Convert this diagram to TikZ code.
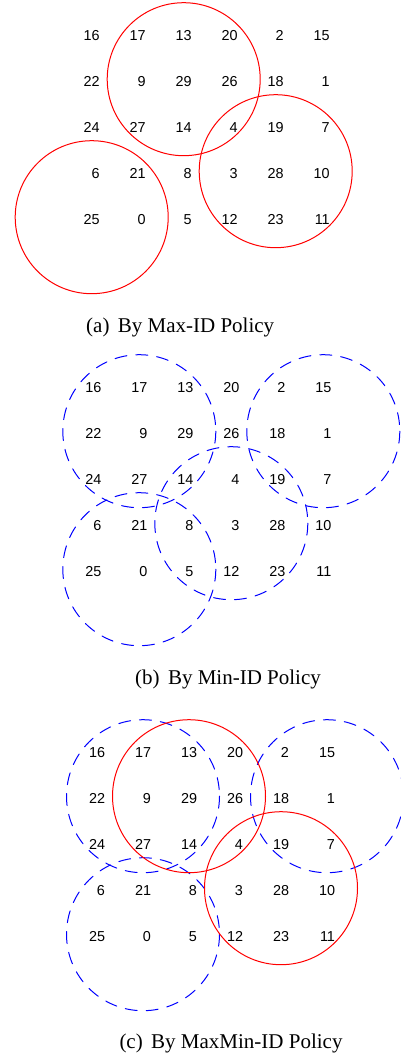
\documentclass[tikz,border=0pt]{standalone}
\usepackage{fontspec}
\setmainfont{Liberation Serif}
\newfontfamily\numfont{Liberation Sans}

\begin{document}
\begin{tikzpicture}[line cap=round,line join=round,x=1pt,y=-1pt,
  idnum/.style={font=\numfont\fontsize{14.4}{16}\selectfont,inner sep=0pt,
    text width=16pt,align=right,text height=10.3pt,text depth=0pt},
  maxhead/.style={draw=red,line width=1pt},
  minhead/.style={draw=blue,line width=1pt,dash pattern=on 12pt off 9pt},
  subcap/.style={font=\fontsize{21}{25}\selectfont,inner sep=0pt,anchor=base west}]
  \useasboundingbox (0,0) rectangle (400,1059);
  % the same id grid in all three panels
  \foreach \p/\gx/\gy in {a/91.7/35.7,b/93.3/387.7,c/97/752.7} {
    \foreach \row [count=\j from 0] in {{16,17,13,20,2,15},{22,9,29,26,18,1},
        {24,27,14,4,19,7},{6,21,8,3,28,10},{25,0,5,12,23,11}} {
      \foreach \id [count=\i from 0] in \row {
        \node[idnum] (\p\id) at (\gx+46*\i,\gy+46*\j) {\id};
      }
    }
  }
  % (a) max-id heads
  \foreach \h in {29,28,25}
    \draw[maxhead] ([yshift=2.5pt]a\h.center) circle[radius=76.5];
  % (b) min-id heads
  \foreach \h in {9,1,3,0}
    \draw[minhead] ([yshift=2.5pt]b\h.center) circle[radius=76.5];
  % (c) both
  \foreach \h in {9,1,0}
    \draw[minhead] ([yshift=2.5pt]c\h.center) circle[radius=76.5];
  \foreach \h in {29,28}
    \draw[maxhead] ([yshift=2.5pt]c\h.center) circle[radius=76.5];
  \node[subcap] (capa) at (86,332.3) {(a)\hspace{0.4em}By Max-ID Policy};
  \node[subcap] (capb) at (135,684.3) {(b)\hspace{0.4em}By Min-ID Policy};
  \node[subcap] (capc) at (119.3,1048.3) {(c)\hspace{0.4em}By MaxMin-ID Policy};
\end{tikzpicture}
\end{document}
